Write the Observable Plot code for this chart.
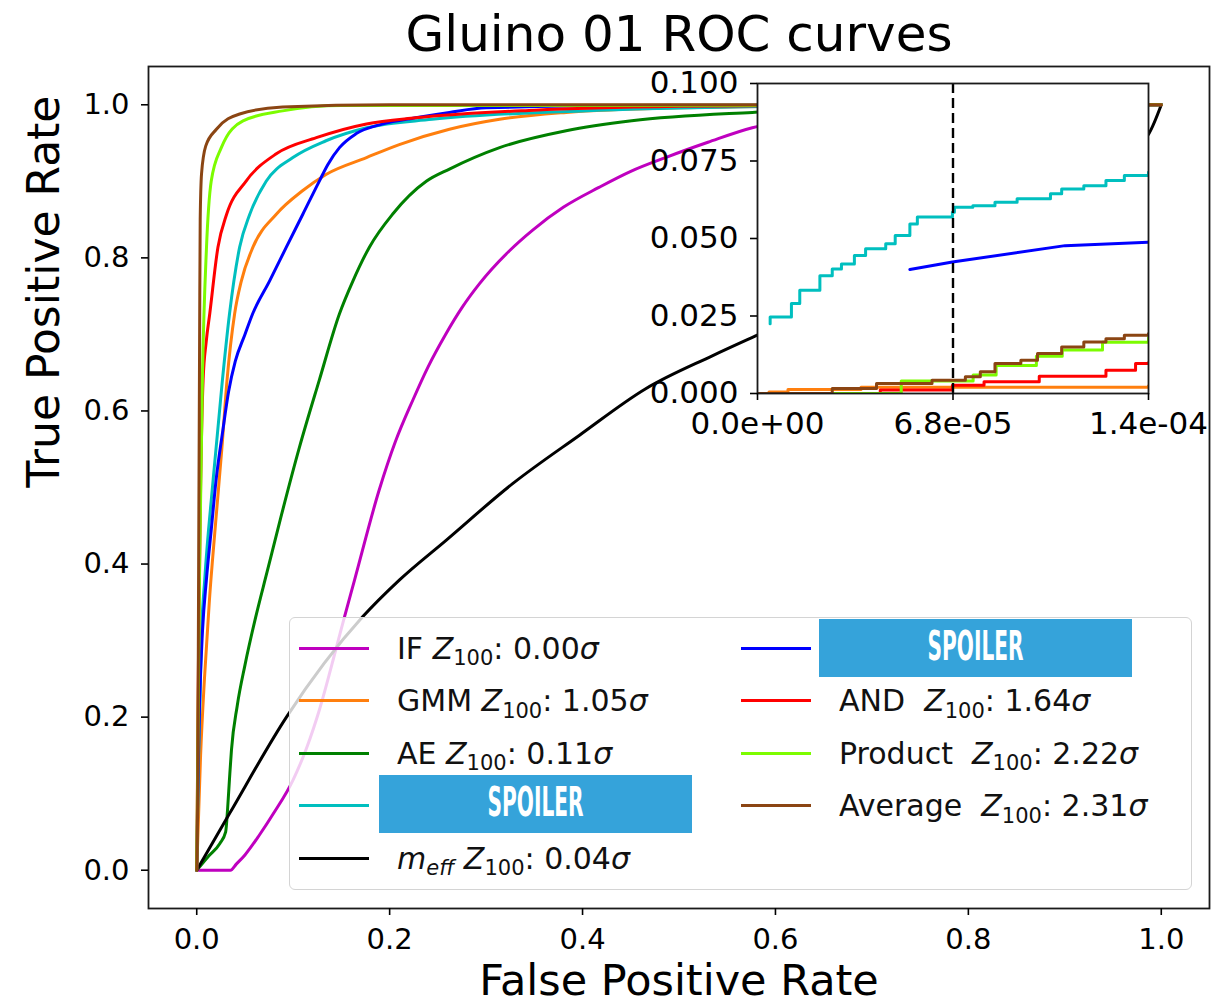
<!DOCTYPE html>
<html>
<head>
<meta charset="utf-8">
<script src="https://cdn.jsdelivr.net/npm/d3@7"></script>
<script src="https://cdn.jsdelivr.net/npm/@observablehq/plot@0.6"></script>
<style>
  body { margin: 0; background: #fff; }
  #chart { position: relative; width: 1227px; height: 1006px; font-family: "DejaVu Sans", sans-serif; }
  #chart svg { position: absolute; }
  .legend { position: absolute; left: 289px; top: 617px; width: 903px; height: 273px; box-sizing: border-box;
            border: 1.5px solid #d4d4d4; border-radius: 6px; background: rgba(255,255,255,0.8); }
  .row { position: absolute; height: 52px; display: flex; align-items: center; font-size: 30px; color: #111; white-space: pre; }
  .handle { display: inline-block; width: 70px; height: 3px; margin-right: 28px; }
  .sub { font-size: 0.7em; position: relative; top: 0.32em; }
  .spoiler { position: absolute; }
</style>
</head>
<body>
<div id="chart"></div>
<script>
// ---- series (plot order) ----
const seriesNames  = ["IF", "GMM", "AE", "spoilerA", "m_eff", "spoilerB", "AND", "Product", "Average"];
const seriesColors = ["#bf00bf", "#ff7f0e", "#008000", "#00bfbf", "#000000", "#0000ff", "#ff0000", "#7cfc00", "#8b4513"];
const z100Values   = ["0.00", "1.05", "0.11", null, "0.04", null, "1.64", "2.22", "2.31"];

// ---- full ROC curves: [false positive rate, true positive rate] ----
const rocIF = [[0,0],[0.035,0],[0.041,0.008],[0.05,0.02],[0.065,0.046],[0.08,0.075],[0.0997,0.1175],[0.114,0.16],
  [0.1273,0.21],[0.1446,0.29],[0.1532,0.331],[0.1636,0.379],[0.189,0.496],[0.206,0.56],[0.224,0.614],[0.24,0.658],
  [0.258,0.70],[0.275,0.735],[0.293,0.766],[0.324,0.809],[0.348,0.836],[0.38,0.866],[0.417,0.892],[0.45,0.913],
  [0.486,0.931],[0.53,0.951],[0.576,0.970],[0.7,0.99],[0.85,0.998],[1,1]];
const rocGMM = [[0,0],[0.004,0.15],[0.008,0.25],[0.013,0.35],[0.02,0.46],[0.026,0.55],[0.0314,0.64],[0.0393,0.727],
  [0.0463,0.77],[0.0583,0.814],[0.0825,0.857],[0.11,0.888],[0.134,0.909],[0.176,0.931],[0.21,0.948],[0.262,0.968],
  [0.314,0.981],[0.383,0.99],[0.5,0.996],[0.7,0.999],[1,1]];
const rocAE = [[0,0],[0.012,0.018],[0.024,0.035],[0.030,0.05],[0.032,0.08],[0.034,0.12],[0.036,0.157],[0.042,0.215],
  [0.05,0.268],[0.061,0.33],[0.073,0.39],[0.087,0.46],[0.1066,0.553],[0.127,0.64],[0.148,0.727],[0.162,0.77],
  [0.179,0.814],[0.203,0.857],[0.238,0.90],[0.262,0.916],[0.314,0.944],[0.383,0.966],[0.451,0.979],[0.576,0.99],
  [0.75,0.997],[1,1]];
const rocSpoilerA = [[0,0],[0.002,0.15],[0.005,0.31],[0.0083,0.38],[0.017,0.51],[0.0266,0.64],[0.034,0.727],
  [0.0445,0.814],[0.055,0.857],[0.072,0.9],[0.0997,0.931],[0.134,0.953],[0.176,0.97],[0.244,0.981],[0.4,0.992],
  [0.6,0.998],[0.8,1],[1,1]];
const rocMeff = [[0,0],[0.034,0.074],[0.093,0.2],[0.172,0.331],[0.21,0.379],[0.2585,0.431],[0.3275,0.505],
  [0.3965,0.568],[0.4655,0.629],[0.5345,0.672],[0.5794,0.698],[0.65,0.738],[0.75,0.795],[0.85,0.853],[0.93,0.905],
  [0.987,0.962],[1,1]];
const rocSpoilerB = [[0,0],[0.001,0.1],[0.003,0.22],[0.006,0.313],[0.010,0.379],[0.015,0.444],[0.02,0.509],
  [0.027,0.574],[0.033,0.625],[0.04,0.665],[0.05,0.70],[0.058,0.727],[0.0756,0.77],[0.0929,0.814],[0.11,0.857],
  [0.127,0.9],[0.136,0.922],[0.148,0.944],[0.165,0.962],[0.193,0.975],[0.227,0.983],[0.262,0.99],[0.3,0.996],
  [0.45,0.999],[1,1]];
const rocAND = [[0,0],[0.002,0.3],[0.004,0.5],[0.0066,0.64],[0.0098,0.69],[0.0135,0.727],[0.022,0.814],[0.031,0.857],
  [0.051,0.9],[0.0825,0.936],[0.124,0.957],[0.176,0.975],[0.227,0.983],[0.35,0.993],[0.5,0.998],[0.7,1],[1,1]];
const rocProduct = [[0,0],[0.003,0.4],[0.006,0.65],[0.01,0.81],[0.015,0.9],[0.0255,0.944],[0.048,0.979],
  [0.089,0.992],[0.15,0.999],[1,1]];
const rocAverage = [[0,0],[0.001,0.1],[0.002,0.4],[0.003,0.7],[0.0036,0.85],[0.005,0.91],[0.0093,0.946],
  [0.0204,0.968],[0.0445,0.988],[0.089,0.997],[0.2,1],[1,1]];
const rocCurves = [rocIF, rocGMM, rocAE, rocSpoilerA, rocMeff, rocSpoilerB, rocAND, rocProduct, rocAverage];

// ---- low false-positive-rate region (inset) ----
const lowGMM = [[0,0],[4e-6,0.0005],[1.06e-5,0.0013],[3.6e-5,0.002],[1.36e-4,0.0024]];
const lowSpoilerA = [[4.37e-6,0.0225],[4.4e-6,0.0247],[1.18e-5,0.029],[1.47e-5,0.0333],[2.17e-5,0.038],[2.6e-5,0.0402],
  [2.92e-5,0.0418],[3.37e-5,0.0445],[3.76e-5,0.0467],[4.46e-5,0.0483],[4.79e-5,0.051],[5.3e-5,0.0547],
  [5.56e-5,0.0569],[6.78e-5,0.0585],[6.85e-5,0.0601],[7.49e-5,0.0606],[8.26e-5,0.0617],[9.03e-5,0.0628],
  [1.019e-4,0.0644],[1.058e-4,0.066],[1.135e-4,0.067],[1.212e-4,0.0687],[1.276e-4,0.0703],[1.36e-4,0.0714]];
const lowSpoilerB = [[5.3e-5,0.040],[6.78e-5,0.0424],[1.07e-4,0.0477],[1.36e-4,0.0488]];
const lowAND = [[0,0],[4.27e-5,0.0011],[6.78e-5,0.0027],[7.88e-5,0.0038],[9.8e-5,0.0056],[1.212e-4,0.0075],
  [1.315e-4,0.0097],[1.36e-4,0.0099]];
const lowProduct = [[0,0],[5e-5,0.004],[7.5e-5,0.006],[8.3e-5,0.009],[9.7e-5,0.012],[1.06e-4,0.014],
  [1.2e-4,0.0165],[1.36e-4,0.018]];
const lowAverage = [[0,0],[2.6e-5,0.0016],[4.14e-5,0.0032],[6.07e-5,0.0043],[7.23e-5,0.0054],[7.75e-5,0.007],
  [8.26e-5,0.0097],[9.16e-5,0.0107],[9.74e-5,0.0129],[1.058e-4,0.015],[1.135e-4,0.0166],[1.212e-4,0.0177],
  [1.276e-4,0.0188],[1.36e-4,0.0193]];
const insetCurves = [
  {data: lowGMM, color: seriesColors[1], curve: "step-after"},
  {data: lowSpoilerA, color: seriesColors[3], curve: "step-after"},
  {data: lowSpoilerB, color: seriesColors[5], curve: "linear"},
  {data: lowAND, color: seriesColors[6], curve: "step-after"},
  {data: lowProduct, color: seriesColors[7], curve: "step-after"},
  {data: lowAverage, color: seriesColors[8], curve: "step-after"}
];
const workingPoint = 6.8e-5;

// ---- ticks and texts ----
const mainTicks = [0, 0.2, 0.4, 0.6, 0.8, 1.0];
const insetXTicks = [0, 6.8e-5, 1.36e-4];
const insetYTicks = [0, 0.025, 0.05, 0.075, 0.1];
const titleText = "Gluino 01 ROC curves";
const xLabel = "False Positive Rate";
const yLabel = "True Positive Rate";

const font = "DejaVu Sans, sans-serif";
const chart = document.getElementById("chart");

// main axes
const main = Plot.plot({
  width: 1227, height: 1006,
  marginLeft: 148, marginRight: 18, marginTop: 66, marginBottom: 98,
  style: {fontFamily: font, background: "white", overflow: "visible", color: "#000"},
  x: {domain: [-0.05, 1.05]},
  y: {domain: [-0.05, 1.05]},
  marks: [
    ...rocCurves.map((c, i) => Plot.line(c, {x: d => d[0], y: d => d[1], stroke: seriesColors[i], strokeWidth: 3, curve: "monotone-x"})),
    Plot.frame({stroke: "#1a1a1a", strokeWidth: 1.8}),
    Plot.axisX({ticks: mainTicks, tickFormat: d3.format(".1f"), tickSize: 7, tickPadding: 13, fontSize: 29, label: null, strokeWidth: 1.6}),
    Plot.axisY({ticks: mainTicks, tickFormat: d3.format(".1f"), tickSize: 7, tickPadding: 12, fontSize: 29, label: null, strokeWidth: 1.6}),
    Plot.text([titleText], {text: d => d, frameAnchor: "top", dy: -32, lineAnchor: "middle", fontSize: 50}),
    Plot.text([xLabel], {text: d => d, frameAnchor: "bottom", dy: 73, lineAnchor: "middle", fontSize: 43}),
    Plot.text([yLabel], {text: d => d, frameAnchor: "left", dx: -104, rotate: -90, lineAnchor: "middle", fontSize: 44})
  ]
});
main.style.left = "0px"; main.style.top = "0px";
chart.appendChild(main);

// inset axes
const expFormat = v => {
  const [m, e] = v.toExponential(1).split("e");
  return m + "e" + e[0] + e.slice(1).padStart(2, "0");
};
const inset = Plot.plot({
  width: 607, height: 400,
  marginLeft: 137, marginRight: 79, marginTop: 23, marginBottom: 67,
  style: {fontFamily: font, background: "transparent", overflow: "visible", color: "#000"},
  x: {domain: [0, 1.36e-4]},
  y: {domain: [0, 0.1]},
  marks: [
    Plot.frame({fill: "white", stroke: null}),
    ...insetCurves.map(s => Plot.line(s.data, {x: d => d[0], y: d => d[1], stroke: s.color, strokeWidth: 3, curve: s.curve, clip: true})),
    Plot.ruleX([workingPoint], {stroke: "black", strokeWidth: 2.4, strokeDasharray: "10,5"}),
    Plot.frame({stroke: "#1a1a1a", strokeWidth: 1.8}),
    Plot.axisX({ticks: insetXTicks, tickFormat: expFormat, tickSize: 7, tickPadding: 11, fontSize: 31, label: null, strokeWidth: 1.6}),
    Plot.axisY({ticks: insetYTicks, tickFormat: d3.format(".3f"), tickSize: 7, tickPadding: 12, fontSize: 31, label: null, strokeWidth: 1.6})
  ]
});
inset.style.left = "620px"; inset.style.top = "60px";
chart.appendChild(inset);

// legend (two columns, column-major)
const legend = document.createElement("div");
legend.className = "legend";
const rowCenters = [30, 82.5, 135, 187.5, 240];
const colLeft = [9, 451];
seriesNames.forEach((name, i) => {
  const col = i < 5 ? 0 : 1, r = i < 5 ? i : i - 5;
  const row = document.createElement("div");
  row.className = "row";
  row.style.left = colLeft[col] + "px";
  row.style.top = (rowCenters[r] - 26) + "px";
  const h = document.createElement("span");
  h.className = "handle";
  h.style.background = seriesColors[i];
  row.appendChild(h);
  if (z100Values[i] !== null) {
    const lab = document.createElement("span");
    const nm = name === "m_eff" ? '<i>m</i><span class="sub"><i>eff</i></span>' : name;
    const gap = col === 1 ? "  " : " ";
    lab.innerHTML = nm + gap + '<i>Z</i><span class="sub">100</span>: ' + z100Values[i] + '<i>σ</i>';
    row.appendChild(lab);
  }
  legend.appendChild(row);
});
chart.appendChild(legend);

// cover boxes over the hidden legend labels
const spoilerBoxes = [{left: 379, top: 775}, {left: 819, top: 619}];
const ns = "http://www.w3.org/2000/svg";
spoilerBoxes.forEach(b => {
  const svg = document.createElementNS(ns, "svg");
  svg.setAttribute("width", 313); svg.setAttribute("height", 58);
  svg.setAttribute("class", "spoiler");
  svg.style.left = b.left + "px"; svg.style.top = b.top + "px";
  const rect = document.createElementNS(ns, "rect");
  rect.setAttribute("width", 313); rect.setAttribute("height", 58); rect.setAttribute("fill", "#35a3da");
  const t = document.createElementNS(ns, "text");
  t.setAttribute("x", 156.5); t.setAttribute("y", 41);
  t.setAttribute("text-anchor", "middle"); t.setAttribute("fill", "white");
  t.setAttribute("font-family", font); t.setAttribute("font-weight", "bold"); t.setAttribute("font-size", 41);
  t.setAttribute("textLength", 96); t.setAttribute("lengthAdjust", "spacingAndGlyphs");
  t.textContent = "SPOILER";
  svg.appendChild(rect); svg.appendChild(t);
  chart.appendChild(svg);
});
</script>
</body>
</html>
